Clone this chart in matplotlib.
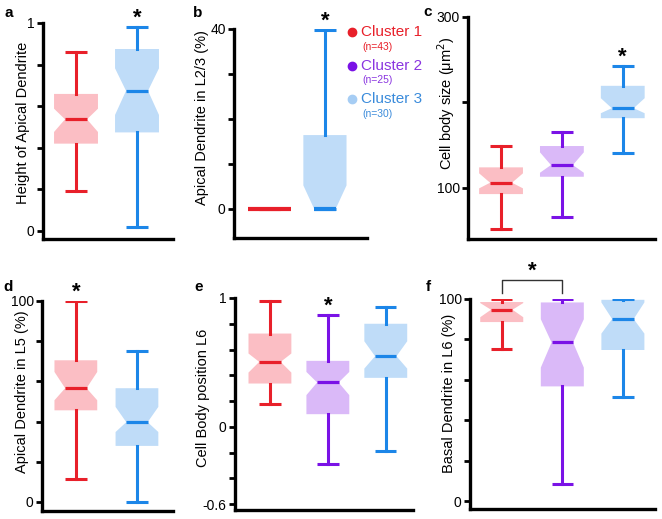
import matplotlib
matplotlib.use("Agg")
import matplotlib.pyplot as plt
from matplotlib.lines import Line2D

plt.rcParams['font.family'] = ['Liberation Sans', 'DejaVu Sans']

# ---------------- data ----------------
cluster_names = ['Cluster 1', 'Cluster 2', 'Cluster 3']
cluster_n = [43, 25, 30]

# panel a: Height of Apical Dendrite
a_clusters = [0, 2]
a_q1 = [0.420, 0.474]
a_med = [0.537, 0.674]
a_q3 = [0.659, 0.875]
a_lo = [0.194, 0.018]
a_hi = [0.862, 0.979]
a_cilo = [0.476, 0.558]
a_cihi = [0.588, 0.782]

# panel b: Apical Dendrite in L2/3 (%)
b_clusters = [0, 2]
b_q1 = [0.0, 0.0]
b_med = [0.0, 0.0]
b_q3 = [0.0, 16.4]
b_lo = [0.0, 0.0]
b_hi = [0.0, 39.8]
b_cilo = [0.0, 0.0]
b_cihi = [0.0, 5.2]

# panel c: Cell body size (um^2)
c_clusters = [0, 1, 2]
c_q1 = [92.6, 112.9, 181.5]
c_med = [105.9, 126.6, 193.2]
c_q3 = [123.9, 148.9, 219.4]
c_lo = [51.9, 65.3, 141.1]
c_hi = [148.9, 165.7, 242.8]
c_cilo = [99.3, 117.6, 187.3]
c_cihi = [116.9, 141.5, 204.9]

# panel d: Apical Dendrite in L5 (%)
d_clusters = [0, 2]
d_q1 = [45.6, 27.9]
d_med = [56.6, 39.7]
d_q3 = [70.5, 56.6]
d_lo = [11.3, 0.0]
d_hi = [100.0, 75.1]
d_cilo = [50.6, 34.8]
d_cihi = [64.7, 47.3]

# panel e: Cell Body position L6
e_clusters = [0, 1, 2]
e_q1 = [0.336, 0.098, 0.380]
e_med = [0.504, 0.344, 0.548]
e_q3 = [0.724, 0.512, 0.800]
e_lo = [0.176, -0.289, -0.186]
e_hi = [0.974, 0.866, 0.928]
e_cilo = [0.421, 0.246, 0.452]
e_cihi = [0.569, 0.426, 0.664]

# panel f: Basal Dendrite in L6 (%)
f_clusters = [0, 1, 2]
f_q1 = [88.6, 56.8, 74.8]
f_med = [94.7, 78.5, 90.1]
f_q3 = [98.5, 98.3, 99.6]
f_lo = [75.3, 8.8, 51.4]
f_hi = [100.0, 100.0, 100.0]
f_cilo = [91.0, 66.1, 82.9]
f_cihi = [98.0, 90.0, 98.3]

# ---------------- style ----------------
line_colors = ['#E8202A', '#7A12E6', '#1C86E8']
fill_colors = ['#FBBEC4', '#DAB9F8', '#BFDCF8']
dot_colors = ['#E8202A', '#7A12E6', '#A6CDF4']
text_colors = ['#E8202A', '#8A35E0', '#3A8BDB']

W, H = 662, 519
fig = plt.figure(figsize=(W / 100, H / 100), dpi=100)


def px_axes(x0, x1, y0, y1):
    return fig.add_axes([x0 / W, 1 - y1 / H, (x1 - x0) / W, (y1 - y0) / H])


def make_stats(q1, med, q3, lo, hi, cilo, cihi):
    return [dict(q1=a, med=b, q3=c, whislo=d, whishi=e, cilo=f, cihi=g, fliers=[])
            for a, b, c, d, e, f, g in zip(q1, med, q3, lo, hi, cilo, cihi)]


def draw_panel(ax, clusters, stats, width, notches=None, med_lw=2.3):
    for i, (cl, st) in enumerate(zip(clusters, stats)):
        notch = True if notches is None else notches[i]
        lc = line_colors[cl]
        ax.bxp([st], positions=[i + 1], widths=[width], shownotches=notch,
               patch_artist=True, showfliers=False, manage_ticks=False,
               boxprops=dict(facecolor=fill_colors[cl], edgecolor=fill_colors[cl], linewidth=0),
               medianprops=dict(color=lc, linewidth=med_lw, solid_capstyle='butt'),
               whiskerprops=dict(color=lc, linewidth=2.2),
               capprops=dict(color=lc, linewidth=2.2, solid_capstyle='butt'))


def style_axes(ax, xlim, ylim, major, major_labels, minor, label, label_xy, fs=10.5):
    ax.set_xlim(*xlim)
    ax.set_ylim(*ylim)
    for s in ['top', 'right']:
        ax.spines[s].set_visible(False)
    for s in ['left', 'bottom']:
        ax.spines[s].set_linewidth(2.4)
    ax.set_xticks([])
    ax.set_yticks(major)
    ax.set_yticklabels(major_labels)
    ax.set_yticks(minor, minor=True)
    ax.tick_params(axis='y', which='both', length=4.5, width=2, direction='out', labelsize=10, pad=1.5)
    ax.set_ylabel(label, fontsize=fs)
    ax.yaxis.set_label_coords(*label_xy)


def star(ax, x, y, dy=2.5):
    ax.annotate('*', xy=(x, y), xytext=(0, dy), textcoords='offset points',
                ha='center', va='baseline', fontsize=16, fontweight='bold',
                annotation_clip=False)


# panel a
ax = px_axes(43, 173, 23, 239)
draw_panel(ax, a_clusters, make_stats(a_q1, a_med, a_q3, a_lo, a_hi, a_cilo, a_cihi), 0.72)
style_axes(ax, (0.459, 2.59), (-0.0385, 1.0), [0, 1], ['0', '1'], [0.2, 0.4, 0.6, 0.8],
           'Height of Apical Dendrite', (-0.098, 0.539))
star(ax, 2, a_hi[1])

# panel b
ax = px_axes(234, 367, 29, 238)
draw_panel(ax, b_clusters, make_stats(b_q1, b_med, b_q3, b_lo, b_hi, b_cilo, b_cihi), 0.78,
           notches=[False, True], med_lw=3.0)
style_axes(ax, (0.357, 2.76), (-6.5, 40), [0, 40], ['0', '40'], [10, 20, 30],
           'Apical Dendrite in L2/3 (%)', (-0.186, 0.577))
star(ax, 2, b_hi[1])

# legend (in panel b area)
leg_y = [32, 65.7, 99]
for i in range(3):
    fig.add_artist(Line2D([351.7 / W], [1 - leg_y[i] / H], marker='o', markersize=6,
                          color=dot_colors[i], linestyle='none', transform=fig.transFigure))
    fig.text(361 / W, 1 - leg_y[i] / H, cluster_names[i], color=text_colors[i],
             fontsize=11, ha='left', va='center')
    fig.text(362 / W, 1 - (leg_y[i] + 14.7) / H, '(n=%d)' % cluster_n[i], color=text_colors[i],
             fontsize=7.5, ha='left', va='center')

# panel c
ax = px_axes(468, 655, 17, 239)
draw_panel(ax, c_clusters, make_stats(c_q1, c_med, c_q3, c_lo, c_hi, c_cilo, c_cihi), 0.72)
style_axes(ax, (0.457, 3.53), (40, 300), [100, 300], ['100', '300'], [200],
           'Cell body size (\u03bcm$^2$)', (-0.061, 0.613))
star(ax, 3, c_hi[2])

# panel d
ax = px_axes(42, 173, 301, 511)
draw_panel(ax, d_clusters, make_stats(d_q1, d_med, d_q3, d_lo, d_hi, d_cilo, d_cihi), 0.70)
style_axes(ax, (0.446, 2.59), (-4.5, 100), [0, 100], ['0', '100'], [20, 40, 60, 80],
           'Apical Dendrite in L5 (%)', (-0.098, 0.569))
star(ax, 1, d_hi[0])

# panel e
ax = px_axes(235, 413, 298, 510)
draw_panel(ax, e_clusters, make_stats(e_q1, e_med, e_q3, e_lo, e_hi, e_cilo, e_cihi), 0.74)
style_axes(ax, (0.397, 3.47), (-0.646, 1.0), [-0.6, 0, 1], ['-0.6', '0', '1'],
           [-0.4, -0.2, 0.2, 0.4, 0.6, 0.8],
           'Cell Body position L6', (-0.139, 0.528))
star(ax, 2, e_hi[1])

# panel f
ax = px_axes(470, 655, 299, 509)
draw_panel(ax, f_clusters, make_stats(f_q1, f_med, f_q3, f_lo, f_hi, f_cilo, f_cihi), 0.71)
style_axes(ax, (0.476, 3.53), (-3.8, 100), [0, 100], ['0', '100'], [20, 40, 60, 80],
           'Basal Dendrite in L6 (%)', (-0.077, 0.551))
ax.plot([1, 1, 2, 2], [103, 109.2, 109.2, 103], color='#333333', linewidth=1, clip_on=False)
star(ax, 1.5, 109.2)

# panel letters
letters = ['a', 'b', 'c', 'd', 'e', 'f']
letter_xy = [(9, 13), (198, 13), (428, 12), (8, 287), (199, 287), (428, 287)]
for lt, (x, y) in zip(letters, letter_xy):
    fig.text(x / W, 1 - y / H, lt, fontsize=11, fontweight='bold', ha='center', va='center')

fig.savefig('out.png', dpi=100)
